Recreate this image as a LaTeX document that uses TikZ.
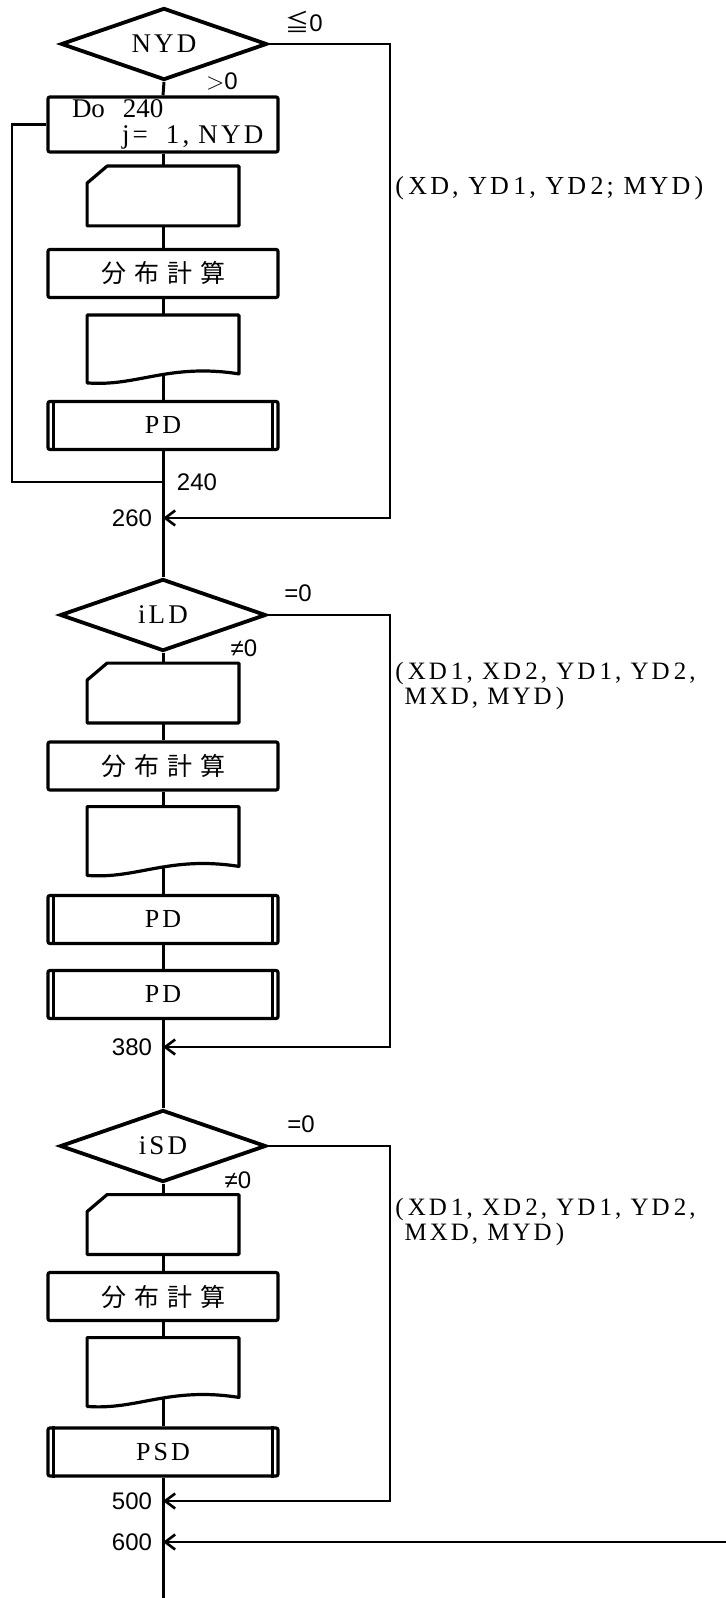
\documentclass[tikz,border=0pt]{standalone}
\usepackage{fontspec}
\setmainfont{Liberation Serif}
\setsansfont{Liberation Sans}
\newfontfamily\cjk{Noto Sans CJK JP}
\newfontfamily\spc{Liberation Serif}[LetterSpace=12]
\usetikzlibrary{shapes.geometric, arrows.meta, positioning, calc}

\begin{document}
\begin{tikzpicture}[
  x=0.5pt, y=-0.5pt,
  >={Straight Barb[length=5pt,width=7.5pt]},
  decision/.style={diamond, aspect=2.8, draw, line width=1.9pt, minimum width=103pt, minimum height=36pt, inner sep=0pt, font=\spc\fontsize{13.5}{14}\selectfont},
  procbox/.style={rectangle, draw, line width=1.6pt, rounded corners=1pt, minimum width=115pt, minimum height=24pt, inner sep=2pt},
  calcbox/.style={procbox, font=\cjk\fontsize{12.5}{13}\selectfont},
  predef/.style={procbox, font=\spc\fontsize{13}{14}\selectfont},
  cardbox/.style={rectangle, minimum width=75.5pt, minimum height=29.5pt},
  docbox/.style={rectangle, minimum width=75.5pt, minimum height=33.5pt},
  outline/.style={line width=1.6pt, line join=round},
  flow/.style={line width=1.5pt},
  loopline/.style={line width=1.3pt},
  numlbl/.style={font=\sffamily\fontsize{12}{13}\selectfont, inner sep=1pt},
  arglbl/.style={font=\spc\fontsize{12.5}{12.5}\selectfont, align=left, anchor=west, inner sep=0pt}
]
\useasboundingbox (0,0) rectangle (726,1598);

% --- NYD loop
\node[decision] (nyd) at (164,44) {NYD};
\node[procbox, text width=107pt, inner xsep=4pt, inner ysep=0.5pt, align=left,
      font=\rmfamily\fontsize{13.5}{13}\selectfont, minimum height=27.5pt] (do) at (163,124.5)
  {\hspace*{8pt}Do\ \ 240\\\mbox{\hspace*{33pt}\spc j=\ \ 1,\ NYD}};
\node[cardbox] (c1) at (163,196) {};
\node[calcbox] (calc1) at (163,273.5) {分\kern4pt 布\kern4pt 計\kern4pt 算};
\node[docbox] (d1) at (163,349) {};
\node[predef] (pd1) at (163,425.5) {PD};
\coordinate (l240) at (163,482);
\coordinate (j260) at (163,518);
\coordinate (lp) at (12,482);
\coordinate (r260) at (390,518);

% --- iLD branch
\node[decision] (ild) at (163,615) {iLD};
\node[cardbox] (c2) at (163,693) {};
\node[calcbox] (calc2) at (163,766) {分\kern4pt 布\kern4pt 計\kern4pt 算};
\node[docbox, minimum height=34pt] (d2) at (163,841) {};
\node[predef] (pd2) at (163,919.5) {PD};
\node[predef] (pd3) at (163,994.5) {PD};
\coordinate (j380) at (163,1047);
\coordinate (r380) at (390,1047);

% --- iSD branch
\node[decision] (isd) at (163,1146) {iSD};
\node[cardbox] (c3) at (163,1224.5) {};
\node[calcbox] (calc3) at (163,1296.5) {分\kern4pt 布\kern4pt 計\kern4pt 算};
\node[docbox, minimum height=34pt] (d3) at (163,1372) {};
\node[predef] (psd) at (163,1452) {PSD};
\coordinate (j500) at (163,1501);
\coordinate (r500) at (390,1501);
\coordinate (j600) at (163,1542);
\coordinate (r600) at (726,1542);
\coordinate (bot) at (163,1598);

% card and document outlines, predefined-process bars
\foreach \c in {c1,c2,c3}
  \draw[outline] ([yshift=-8.5pt]\c.north west) -- ([xshift=10pt]\c.north west) -- (\c.north east)
    -- (\c.south east) -- (\c.south west) -- cycle;
\foreach \d in {d1,d2,d3}
  \draw[outline] (\d.south west) -- (\d.north west) -- (\d.north east) -- ([yshift=4.5pt]\d.south east)
    .. controls ([xshift=-35pt,yshift=10pt]\d.south east) and ([xshift=25pt,yshift=-2pt]\d.south west) .. (\d.south west) -- cycle;
\foreach \p in {pd1,pd2,pd3,psd} {
  \draw[line width=1.2pt] ([xshift=3.5pt]\p.north west) -- ([xshift=3.5pt]\p.south west);
  \draw[line width=1.2pt] ([xshift=-3.5pt]\p.north east) -- ([xshift=-3.5pt]\p.south east);
}

% main line
\draw[flow] (nyd.south) -- (do.north);
\draw[flow] (do.south) -- (c1.north);
\draw[flow] (c1.south) -- (calc1.north);
\draw[flow] (calc1.south) -- (d1.north);
\draw[flow] ([yshift=3.5pt]d1.south) -- (pd1.north);
\draw[flow] (pd1.south) -- (l240) -- (j260) -- (ild.north);
\draw[flow] (ild.south) -- (c2.north);
\draw[flow] (c2.south) -- (calc2.north);
\draw[flow] (calc2.south) -- (d2.north);
\draw[flow] ([yshift=3.5pt]d2.south) -- (pd2.north);
\draw[flow] (pd2.south) -- (pd3.north);
\draw[flow] (pd3.south) -- (j380) -- (isd.north);
\draw[flow] (isd.south) -- (c3.north);
\draw[flow] (c3.south) -- (calc3.north);
\draw[flow] (calc3.south) -- (d3.north);
\draw[flow] ([yshift=3.5pt]d3.south) -- (psd.north);
\draw[flow] (psd.south) -- (j500) -- (j600) -- (bot);

% loop back and skips
\draw[loopline] (do.west) -| (lp) -- (l240);
\draw[loopline,->] (nyd.east) -| (r260) -- (j260);
\draw[loopline,->] (ild.east) -| (r380) -- (j380);
\draw[loopline,->] (isd.east) -| (r500) -- (j500);
\draw[loopline,->] (r600) -- (j600);

% condition labels
\node[numlbl, anchor=west] at (283,22) {{\cjk ≦}0};
\node[numlbl] at (222,81) {$>$0};
\node[numlbl] at (298,593) {=0};
\node[numlbl] at (244,648) {≠0};
\node[numlbl] at (301,1124) {=0};
\node[numlbl] at (238,1180) {≠0};

% statement numbers
\node[numlbl] at (197,482) {240};
\node[numlbl] at (132,518) {260};
\node[numlbl] at (132,1047) {380};
\node[numlbl] at (132,1501) {500};
\node[numlbl] at (132,1542) {600};

% argument lists
\node[arglbl, font=\spc\fontsize{13}{13}\selectfont] at (395,188) {(\,XD, YD\,1, YD\,2; MYD\,)};
\node[arglbl] at (395,686) {(\,XD\,1, XD\,2, YD\,1, YD\,2,\\\ MXD, MYD\,)};
\node[arglbl] at (395,1222) {(\,XD\,1, XD\,2, YD\,1, YD\,2,\\\ MXD, MYD\,)};
\end{tikzpicture}
\end{document}
